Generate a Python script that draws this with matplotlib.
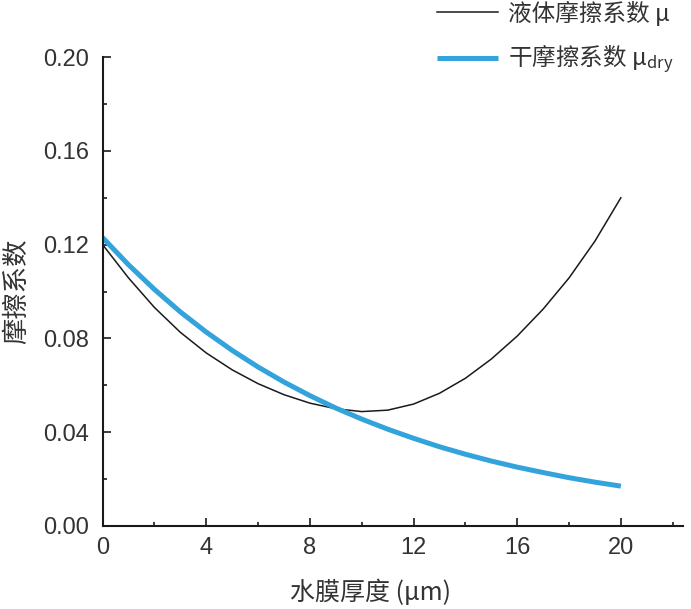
import matplotlib
matplotlib.use("Agg")
import matplotlib.pyplot as plt
from matplotlib.ticker import MultipleLocator

plt.rcParams['font.family'] = ['Liberation Sans', 'Noto Sans CJK SC', 'DejaVu Sans']
plt.rcParams['mathtext.fontset'] = 'custom'
plt.rcParams['mathtext.rm'] = 'Liberation Sans'
plt.rcParams['mathtext.default'] = 'regular'

# water film thickness (um)
thickness = [0, 1, 2, 3, 4, 5, 6, 7, 8, 9, 10,
             11, 12, 13, 14, 15, 16, 17, 18, 19, 20]
# liquid friction coefficient
mu_liquid = [0.1200, 0.1058, 0.0932, 0.0826, 0.0738, 0.0666, 0.0607, 0.0560, 0.0524, 0.0500, 0.0488,
             0.0494, 0.0520, 0.0566, 0.0630, 0.0712, 0.0810, 0.0925, 0.1058, 0.1215, 0.1400]
# dry friction coefficient
mu_dry = [0.1230, 0.1114, 0.1009, 0.0913, 0.0827, 0.0749, 0.0678, 0.0614, 0.0556, 0.0503, 0.0456,
          0.0413, 0.0374, 0.0338, 0.0306, 0.0277, 0.0251, 0.0228, 0.0206, 0.0187, 0.0170]

labels = ['液体摩擦系数 μ', '干摩擦系数 μ$_{dry}$']
text_color = '#333333'
cjk = ['Noto Sans CJK SC', 'DejaVu Sans']

fig = plt.figure(figsize=(6.91, 6.09), dpi=100)
ax = fig.add_axes([0.1485, 0.1363, 0.84, 0.770])

ax.plot(thickness, mu_liquid, color='#1a1a1a', lw=1.1, label=labels[0],
        solid_joinstyle='round')
ax.plot(thickness, mu_dry, color='#33a3dc', lw=3.6, label=labels[1],
        solid_joinstyle='round', solid_capstyle='butt')

ax.set_xlim(0, 22.4)
ax.set_ylim(0, 0.20)
ax.xaxis.set_major_locator(MultipleLocator(4))
ax.xaxis.set_minor_locator(MultipleLocator(2))
ax.yaxis.set_major_locator(MultipleLocator(0.04))
ax.yaxis.set_minor_locator(MultipleLocator(0.02))
ax.yaxis.set_major_formatter(lambda v, p: f"{v:.2f}")

for s in ['top', 'right']:
    ax.spines[s].set_visible(False)
for s in ['left', 'bottom']:
    ax.spines[s].set_linewidth(1.5)
    ax.spines[s].set_color('#1a1a1a')

ax.tick_params(which='both', direction='in', width=1.2, colors='#1a1a1a',
               labelcolor=text_color, labelsize=17)
ax.tick_params(which='major', length=6)
ax.tick_params(which='minor', length=3)
ax.tick_params(axis='x', pad=8)
ax.tick_params(axis='y', pad=10)

ax.set_xlabel('水膜厚度 (μm)', fontsize=18, color=text_color, family=cjk)
ax.xaxis.set_label_coords(0.461, -0.143)
ax.xaxis.label.set_va('center')
ax.set_ylabel('摩擦系数', fontsize=19, color=text_color, family=cjk)
ax.yaxis.set_label_coords(-0.1475, 0.5)
ax.yaxis.label.set_va('center')

leg = fig.legend(loc='upper left', bbox_to_anchor=(437 / 691, 0.999),
                 frameon=False, borderpad=0, borderaxespad=0,
                 handlelength=2.6, handletextpad=0.42, labelspacing=0.72,
                 prop={'family': cjk, 'size': 17})
for t in leg.get_texts():
    t.set_color(text_color)

fig.savefig('out.png', dpi=100)
